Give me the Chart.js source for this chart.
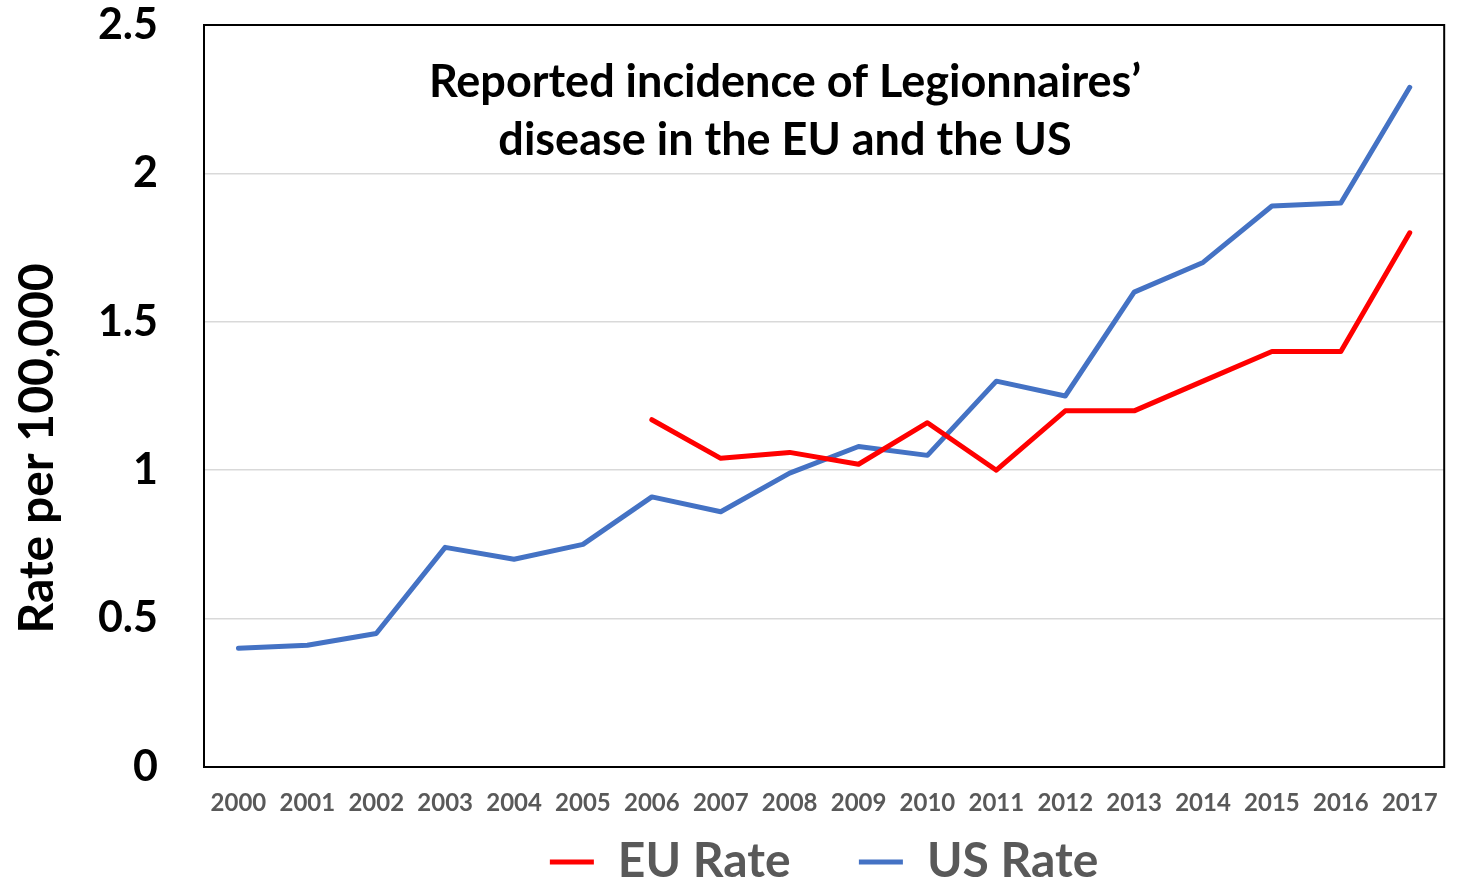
<!DOCTYPE html>
<html>
<head>
<meta charset="utf-8">
<script src="https://cdn.jsdelivr.net/npm/chart.js@4"></script>
<style>
html,body{margin:0;padding:0;background:#fff;}
#wrap{width:1460px;height:885px;}
</style>
</head>
<body>
<div id="wrap"><canvas id="chart" width="1460" height="885"></canvas></div>
<script>
'use strict';

let years=['2000','2001','2002','2003','2004','2005','2006','2007','2008','2009','2010','2011','2012','2013','2014','2015','2016','2017'];
let euRate=[null,null,null,null,null,null,1.17,1.04,1.06,1.02,1.16,1.00,1.20,1.20,1.30,1.40,1.40,1.80];
let usRate=[0.40,0.41,0.45,0.74,0.70,0.75,0.91,0.86,0.99,1.08,1.05,1.30,1.25,1.60,1.70,1.89,1.90,2.29];
let titleLines=['Reported incidence of Legionnaires\u2019','disease in the EU and the US'];

let canvasElem=document.getElementById('chart');

// title inside the plot + black frame round the plot area
let framePlugin={
    id:'frame',
    afterDraw(chart){
        let ctx=chart.ctx;
        let a=chart.chartArea;
        ctx.save();
        ctx.strokeStyle='#000';
        ctx.lineWidth=2;
        ctx.strokeRect(a.left,a.top,a.right-a.left,a.bottom-a.top);
        ctx.fillStyle='#000';
        ctx.font='bold 45px Lato';
        ctx.textAlign='center';
        ctx.textBaseline='middle';
        ctx.fillText(titleLines[0],785,82);
        ctx.fillText(titleLines[1],785,140);
        ctx.restore();
    }
};

function renderChart(){
    Chart.defaults.font.family='Lato';
    Chart.defaults.font.weight='bold';

    let chartObj={
        type:'line',
        data:{
            labels:years,
            datasets:[{
                label:'EU Rate',
                data:euRate,
                borderColor:'#ff0000',
                backgroundColor:'#ff0000',
                borderWidth:5,
                borderCapStyle:'round',
                borderJoinStyle:'round',
                pointRadius:0,
                tension:0
            },
            {
                label:'US Rate',
                data:usRate,
                borderColor:'#4472c4',
                backgroundColor:'#4472c4',
                borderWidth:5,
                borderCapStyle:'round',
                borderJoinStyle:'round',
                pointRadius:0,
                tension:0
            }]
        },
        options:{
            responsive:false,
            animation:false,
            layout:{padding:{top:25,right:15,left:0,bottom:-11}},
            scales:{
                x:{
                    offset:true,
                    grid:{display:false,drawTicks:false},
                    border:{display:false},
                    ticks:{color:'#595959',font:{size:24,weight:'bold'},padding:22,maxRotation:0,autoSkip:false},
                    afterFit(scale){scale.height=61;}
                },
                y:{
                    min:0,
                    max:2.5,
                    // invisible tick marks push the labels away from the frame
                    grid:{color:'#d9d9d9',lineWidth:1.5,drawTicks:true,tickLength:46,tickColor:'rgba(0,0,0,0)'},
                    border:{display:false},
                    ticks:{
                        stepSize:0.5,
                        color:'#000',
                        font:{size:43,weight:'bold',lineHeight:1.1},
                        padding:0,
                        callback:function(value){return String(value);}
                    },
                    title:{
                        display:true,
                        text:'Rate per 100,000         ',
                        color:'#000',
                        font:{size:48,weight:'bold',lineHeight:1.2},
                        padding:{top:9,bottom:0}
                    },
                    afterFit(scale){scale.width=204;}
                }
            },
            plugins:{
                legend:{
                    position:'bottom',
                    fullSize:false,
                    labels:{
                        color:'#595959',
                        font:{size:48,weight:'bold'},
                        usePointStyle:true,
                        pointStyle:'line',
                        pointStyleWidth:44,
                        padding:10,
                        generateLabels(chart){
                            let items=Chart.defaults.plugins.legend.labels.generateLabels(chart);
                            items[0].text=items[0].text+'     ';
                            return items;
                        }
                    }
                },
                tooltip:{enabled:false}
            }
        },
        plugins:[framePlugin]
    };
    new Chart(canvasElem,chartObj);
}

renderChart();
</script>
</body>
</html>
